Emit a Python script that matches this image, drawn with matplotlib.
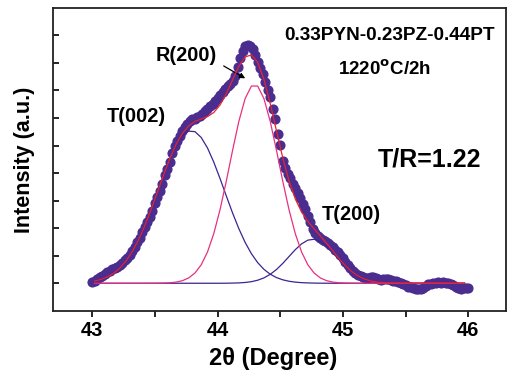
import matplotlib
matplotlib.use("Agg")
import matplotlib.pyplot as plt
import numpy as np

plt.rcParams['font.family'] = ['Liberation Sans', 'DejaVu Sans']
plt.rcParams['font.weight'] = 'bold'

# measured pattern, 2theta from 43 to 46 in 0.02 steps
two_theta = np.round(np.linspace(43.0, 46.0, 151), 2)
intensity = [
    0.03, 0.08, 0.15, 0.22, 0.28, 0.35, 0.40, 0.45, 0.50, 0.55,
    0.60, 0.67, 0.75, 0.84, 0.93, 1.04, 1.18, 1.32, 1.48, 1.66,
    1.86, 2.06, 2.24, 2.40, 2.64, 2.90, 3.14, 3.36, 3.62, 3.92,
    4.16, 4.40, 4.72, 4.98, 5.18, 5.36, 5.52, 5.66, 5.80, 5.90,
    5.95, 5.98, 6.02, 6.08, 6.15, 6.24, 6.33, 6.42, 6.52, 6.62,
    6.72, 6.85, 6.96, 7.06, 7.15, 7.25, 7.36, 7.52, 7.84, 8.18,
    8.45, 8.62, 8.66, 8.63, 8.50, 8.30, 8.02, 7.80, 7.60, 7.30,
    7.02, 6.75, 6.32, 5.98, 5.42, 5.02, 4.45, 4.18, 3.98, 3.84,
    3.62, 3.45, 3.26, 3.08, 2.88, 2.68, 2.46, 2.22, 1.98, 1.82,
    1.72, 1.65, 1.58, 1.52, 1.46, 1.40, 1.32, 1.22, 1.12, 1.02,
    0.90, 0.77, 0.66, 0.55, 0.45, 0.37, 0.31, 0.26, 0.22, 0.19,
    0.19, 0.21, 0.22, 0.18, 0.14, 0.13, 0.15, 0.17, 0.14, 0.12,
    0.10, 0.07, 0.05, 0.02, -0.03, -0.08, -0.12, -0.15, -0.18, -0.20,
    -0.22, -0.22, -0.18, -0.10, -0.04, -0.01, 0.00, 0.01, 0.03, 0.02,
    0.03, 0.01, 0.02, -0.03, -0.08, -0.13, -0.17, -0.20, -0.18, -0.16,
    -0.17,
]

# fitted peaks, 2theta from 43.02 to 45.97 in 0.05 steps
fit_theta = np.round(43.02 + 0.05 * np.arange(60), 2)
peak_t002 = [
    0.081, 0.138, 0.227, 0.359, 0.548, 0.808, 1.150, 1.578, 2.090, 2.672,
    3.297, 3.925, 4.510, 5.000, 5.350, 5.524, 5.505, 5.293, 4.912, 4.399,
    3.802, 3.170, 2.551, 1.982, 1.485, 1.074, 0.750, 0.505, 0.329, 0.206,
    0.125, 0.073, 0.041, 0.022, 0.012, 0.006, 0.003, 0.001, 0, 0,
    0, 0, 0, 0, 0, 0, 0, 0, 0, 0,
    0, 0, 0, 0, 0, 0, 0, 0, 0, 0,
]
peak_r200 = [
    0, 0, 0, 0, 0, 0, 0, 0, 0, 0.001,
    0.003, 0.007, 0.018, 0.042, 0.093, 0.193, 0.372, 0.671, 1.137, 1.801,
    2.671, 3.710, 4.827, 5.879, 6.705, 7.161, 7.161, 6.705, 5.879, 4.827,
    3.710, 2.671, 1.801, 1.137, 0.671, 0.372, 0.193, 0.093, 0.042, 0.018,
    0.007, 0.003, 0.001, 0, 0, 0, 0, 0, 0, 0,
    0, 0, 0, 0, 0, 0, 0, 0, 0, 0,
]
peak_t200 = [
    0, 0, 0, 0, 0, 0, 0, 0, 0, 0,
    0, 0, 0, 0, 0, 0, 0, 0, 0, 0,
    0, 0.002, 0.006, 0.013, 0.028, 0.057, 0.110, 0.195, 0.323, 0.499,
    0.720, 0.970, 1.220, 1.430, 1.565, 1.598, 1.522, 1.353, 1.122, 0.869,
    0.627, 0.423, 0.266, 0.156, 0.085, 0.044, 0.021, 0.009, 0.004, 0.002,
    0, 0, 0, 0, 0, 0, 0, 0, 0, 0,
]
fit_total = np.array(peak_t002) + np.array(peak_r200) + np.array(peak_t200)

fig = plt.figure(figsize=(5.07, 3.74), dpi=100)
ax = fig.add_axes([0.105, 0.169, 0.893, 0.81])

ax.plot(two_theta, intensity, 'o', color='#4a2d8f', ms=6.3, mec='#4a2d8f', zorder=2)
ax.plot(fit_theta, peak_t002, color='#3d2490', lw=0.9, zorder=3)
ax.plot(fit_theta, peak_t200, color='#3d2490', lw=0.9, zorder=3)
ax.plot(fit_theta, peak_r200, color='#e8307f', lw=0.9, zorder=3)
ax.plot(fit_theta, fit_total, color='#e82330', lw=0.9, zorder=4)

ax.set_xlim(42.69, 46.3)
ax.set_ylim(-1, 10)
ax.set_xticks([43, 44, 45, 46])
ax.set_xticks([43.5, 44.5, 45.5], minor=True)
ax.set_yticks(range(10))
ax.set_yticklabels([])
ax.tick_params(axis='x', which='both', direction='out', length=4, width=1.2,
               labelsize=14.5, pad=3.5)
ax.tick_params(axis='y', direction='in', length=4, width=1.2)
for s in ax.spines.values():
    s.set_linewidth(1.3)
    s.set_color('#222222')

ax.set_xlabel('2θ (Degree)', fontsize=17, fontweight='bold')
ax.xaxis.set_label_coords(0.485, -0.118)
ax.set_ylabel('Intensity (a.u.)', fontsize=15.5, fontweight='bold')
ax.yaxis.set_label_coords(-0.04, 0.5)

ax.text(45.37, 8.85, '0.33PYN-0.23PZ-0.44PT', fontsize=13.7, ha='center', va='baseline')
ax.text(45.33, 7.57, '1220$^{\\mathrm{o}}$C/2h', fontsize=13.5, ha='center', va='baseline')
ax.text(45.69, 4.24, 'T/R=1.22', fontsize=18, ha='center', va='baseline')
ax.text(43.75, 8.06, 'R(200)', fontsize=14.3, ha='center', va='baseline')
ax.text(43.35, 5.84, 'T(002)', fontsize=14.3, ha='center', va='baseline')
ax.text(45.07, 2.30, 'T(200)', fontsize=14.3, ha='center', va='baseline')
ax.annotate('', xy=(44.24, 7.39), xytext=(44.03, 7.94),
            arrowprops=dict(arrowstyle='-|>', color='black', lw=0.9, mutation_scale=8))

fig.savefig('out.png', dpi=100)
